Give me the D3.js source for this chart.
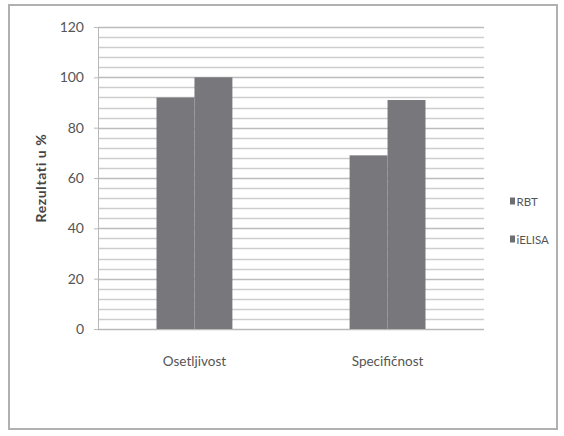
<!DOCTYPE html>
<html>
<head>
<meta charset="utf-8">
<script src="https://cdn.jsdelivr.net/npm/d3@7"></script>
<style>
  body { margin: 0; background: #fff; }
  svg { display: block; font-family: Lato, "Open Sans", sans-serif; }
</style>
</head>
<body>
<div id="chart"></div>
<script>
var categories = ['Osetljivost', 'Specifičnost']
var seriesNames = ['RBT', 'iELISA']
var rbtValues = [92, 69]
var ielisaValues = [100, 91]
var yTicks = [0, 20, 40, 60, 80, 100, 120]

var width = 564
var height = 436
// "top" is taken by window.top, so the margins get their own names
var plotLeft = 98, plotRight = 484, plotTop = 27, plotBottom = 329

var svg = d3.select('#chart').append('svg')
    .attr('width', width)
    .attr('height', height)

// outer frame
svg.append('rect')
    .attr('x', 9).attr('y', 5)
    .attr('width', 548).attr('height', 424)
    .attr('fill', '#fff')
    .attr('stroke', '#b0b0b0')
    .attr('stroke-width', 2)

var y = d3.scaleLinear().domain([0, 120]).range([plotBottom, plotTop])
var x0 = d3.scaleBand().domain(categories).range([plotLeft, plotRight])
    .paddingInner(0.607).paddingOuter(0.303)
var x1 = d3.scaleBand().domain(seriesNames).range([0, x0.bandwidth()])

// grid lines every 4 units
var minor = d3.range(0, 121, 4)
svg.append('g')
    .selectAll('line')
    .data(minor)
    .join('line')
    .attr('x1', plotLeft).attr('x2', plotRight)
    .attr('y1', d => Math.round(y(d)) + 0.5).attr('y2', d => Math.round(y(d)) + 0.5)
    .attr('stroke', d => d % 20 == 0 ? '#bcbcbc' : '#cdcdcd')
    .attr('stroke-width', 1.4)

// bars
var rows = categories.map((c, i) => ({ cat: c, vals: [rbtValues[i], ielisaValues[i]] }))
svg.append('g')
    .selectAll('g')
    .data(rows)
    .join('g')
    .attr('transform', d => 'translate(' + x0(d.cat) + ',0)')
    .selectAll('rect')
    .data(d => d.vals.map((v, j) => ({ name: seriesNames[j], v: v })))
    .join('rect')
    .attr('x', d => x1(d.name))
    .attr('width', x1.bandwidth())
    .attr('y', d => y(d.v))
    .attr('height', d => y(0) - y(d.v))
    .attr('fill', '#78787c')

// y axis
var yAxis = svg.append('g')
    .attr('transform', 'translate(' + plotLeft + ',0)')
    .call(d3.axisLeft(y).tickValues(yTicks).tickSize(4).tickPadding(10))
yAxis.select('.domain').attr('stroke', '#b8b8b8')
yAxis.selectAll('.tick line').attr('stroke', '#b8b8b8')
yAxis.selectAll('text')
    .attr('font-size', 14)
    .attr('fill', '#555')
    .attr('font-family', 'Lato, sans-serif')

// x axis baseline + labels
svg.append('line')
    .attr('x1', plotLeft - 4).attr('x2', plotRight)
    .attr('y1', plotBottom + 0.5).attr('y2', plotBottom + 0.5)
    .attr('stroke', '#b8b8b8')

svg.append('g')
    .selectAll('text')
    .data(categories)
    .join('text')
    .attr('x', d => x0(d) + x0.bandwidth() / 2)
    .attr('y', 366)
    .attr('text-anchor', 'middle')
    .attr('font-size', 13.5)
    .attr('fill', '#555')
    .text(d => d)

// y label
svg.append('text')
    .attr('transform', 'translate(46,' + (plotTop + plotBottom) / 2 + ') rotate(-90)')
    .attr('text-anchor', 'middle')
    .attr('font-size', 14)
    .attr('font-weight', 'bold')
    .attr('letter-spacing', 0.6)
    .attr('fill', '#444')
    .text('Rezultati u %')

// legend
var legend = svg.append('g')
    .selectAll('g')
    .data(seriesNames)
    .join('g')
    .attr('transform', (d, i) => 'translate(510,' + (201 + i * 38) + ')')
legend.append('rect')
    .attr('x', 0).attr('y', -3.5)
    .attr('width', 5).attr('height', 7)
    .attr('fill', '#6e6e72')
legend.append('text')
    .attr('x', 6.5).attr('y', 4.5)
    .attr('font-size', 11.5)
    .attr('fill', '#555')
    .text(d => d)
</script>
</body>
</html>
